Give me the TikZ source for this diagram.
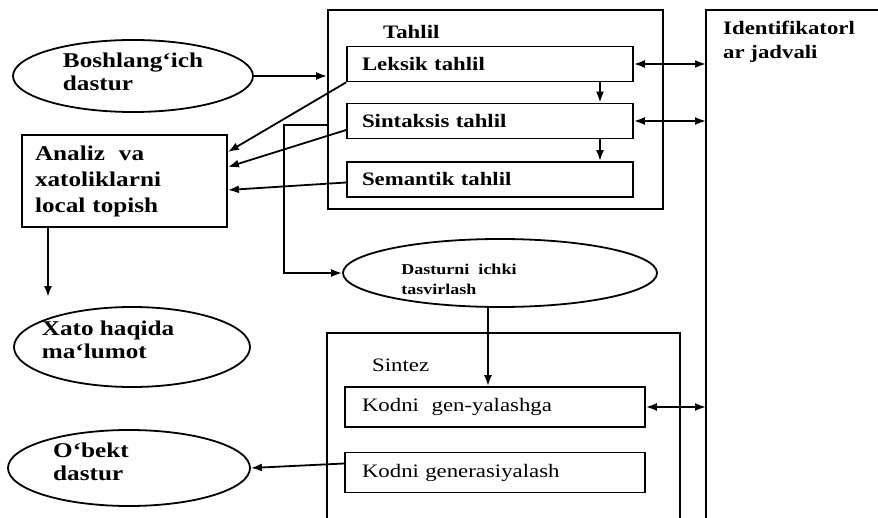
\documentclass[tikz,border=0pt]{standalone}
\usepackage{fontspec}
\setmainfont{Liberation Serif}[FakeStretch=1.2]
\usetikzlibrary{arrows.meta,shapes.geometric}

\tikzset{
  chiziq/.style={line width=1.8pt},
  blok/.style={draw, chiziq, rectangle, inner sep=0pt, minimum width=286pt, minimum height=35pt,
    text width=256pt, align=left, font=\bfseries\fontsize{19}{22}\selectfont},
  kod/.style={blok, minimum width=300pt, minimum height=40pt, text width=266pt,
    font=\fontsize{19}{22}\selectfont},
  oval/.style={draw, chiziq, ellipse, inner sep=0pt},
  yozuv/.style={align=left, inner sep=0pt, font=\bfseries\fontsize{21}{23}\selectfont},
  strelka/.style={chiziq, -{Latex[length=11pt,width=8pt]}},
  ikki/.style={chiziq, {Latex[length=11pt,width=8pt]}-{Latex[length=11pt,width=8pt]}}
}

\begin{document}
\begin{tikzpicture}[x=1pt, y=-1pt]
\useasboundingbox (0,0) rectangle (878,518);

% tahlil bloki
\node[draw, chiziq, minimum width=335pt, minimum height=199pt, inner sep=0pt] (tahlil) at (495.5,109.5) {};
\node[anchor=west, inner sep=0pt, font=\bfseries\fontsize{19}{22}\selectfont] (tahlilnom) at (383,32) {Tahlil};
\node[blok] (leksik) at (490,64) {Leksik tahlil};
\node[blok] (sintaksis) at (490,121) {Sintaksis tahlil};
\node[blok] (semantik) at (490,179.5) {Semantik tahlil};

% identifikatorlar jadvali
\coordinate (jadval) at (706,10);
\draw[chiziq] (878,10) -- (jadval) -- (706,518);
\node[anchor=north west, align=left, inner sep=0pt, font=\bfseries\fontsize{19}{24}\selectfont] (jadvalnom) at (723,21) {Identifikatorl\\ar jadvali};

% sintez bloki
\coordinate (sintez) at (327,333);
\draw[chiziq] (327,518) -- (sintez) -- (680,333) -- (680,518);
\node[anchor=west, inner sep=0pt, font=\fontsize{19}{22}\selectfont] (sinteznom) at (372,365) {Sintez};
\node[kod] (kodgen) at (495,407) {Kodni\ \ gen-yalashga};
\node[kod] (kodgenr) at (495,472.5) {Kodni generasiyalash};

% chap tomon
\node[oval, minimum width=240pt, minimum height=72pt,
  label={[yozuv, yshift=4pt]center:Boshlang`ich\\dastur}] (bosh) at (133,76) {};
\node[draw, chiziq, minimum width=205pt, minimum height=92pt, text width=179pt, align=left, inner sep=0pt,
  font=\bfseries\fontsize{21}{26}\selectfont] (analiz) at (124.5,181) {Analiz\ \ va\\xatoliklarni\\local topish};
\node[oval, minimum width=236pt, minimum height=80pt,
  label={[yozuv, xshift=-24pt, yshift=7pt]center:Xato haqida\\ma`lumot}] (xato) at (132,347) {};
\node[oval, minimum width=242pt, minimum height=76pt,
  label={[yozuv, xshift=-38pt, yshift=6pt]center:O`bekt\\dastur}] (obekt) at (129,468) {};
\node[oval, minimum width=314pt, minimum height=68pt,
  label={[yozuv, font=\bfseries\fontsize{15}{20}\selectfont, xshift=-41pt, yshift=-6pt]center:Dasturni\ \ ichki\\tasvirlash}] (dastur) at (500,273) {};

% strelkalar
\draw[strelka] (bosh.east) -- (tahlil.west |- bosh.east);
\draw[strelka] (leksik.south west) -- ([yshift=29pt]analiz.east);
\draw[strelka] ([yshift=-9pt]sintaksis.west) -- ([yshift=14pt]analiz.east);
\draw[strelka] ([yshift=-3pt]semantik.west) -- ([yshift=-9pt]analiz.east);
\foreach \a/\b in {leksik/sintaksis, sintaksis/semantik}
  \draw[strelka] ([xshift=110pt]\a.south) -- ([xshift=110pt]\b.north);
\foreach \n in {leksik, sintaksis, kodgen}
  \draw[ikki] (\n.east) -- (jadval |- \n.east);
\draw[strelka] ([yshift=-4pt]tahlil.west |- sintaksis.west) -- ++(-43,0) |- (dastur.west);
\draw[strelka] ([xshift=-12pt]dastur.south) -- ([xshift=-12pt]dastur.south |- kodgen.north);
\draw[strelka] ([yshift=9pt]kodgenr.west) -- (obekt.east);
\draw[strelka, line width=2.8pt] ([xshift=-76.5pt]analiz.south) -- ([xshift=-84pt, yshift=9pt]xato.north);
\end{tikzpicture}
\end{document}
